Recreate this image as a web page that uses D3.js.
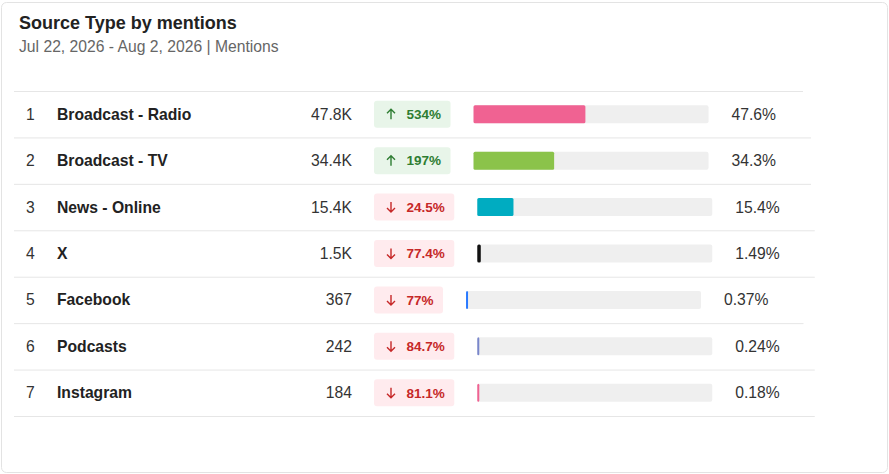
<!DOCTYPE html>
<html>
<head>
<title>Source Type by mentions</title>
<script src="https://cdn.jsdelivr.net/npm/d3@7/dist/d3.min.js"></script>
<style>
body { margin: 0; background: #fff; font-family: "Liberation Sans", Arial, sans-serif; }
#chart_svg { display: block; }
</style>
<script>
var sources = ['Broadcast - Radio', 'Broadcast - TV', 'News - Online', 'X', 'Facebook', 'Podcasts', 'Instagram'];
var mentions = [47800, 34400, 15400, 1500, 367, 242, 184];
var changes = [534, 197, -24.5, -77.4, -77, -84.7, -81.1];
var shares = [47.6, 34.3, 15.4, 1.49, 0.37, 0.24, 0.18];
var barColors = ['#f06292', '#8bc34a', '#00acc1', '#111111', '#2979ff', '#7986cb', '#f06292'];

var W = 889, H = 474;
var TRACK_W = 235;
var GAP = 23;

var fmtCount = function(v) {
  if (v < 1000) return String(v);
  return (+(v / 1000).toFixed(1)) + 'K';
}

// draw the whole card
var drawChart = function() {
  var svg = d3.select('#chart_svg').attr('width', W).attr('height', H);

  // card
  svg.append('rect')
    .attr('x', 1.5).attr('y', 2.5)
    .attr('width', W - 3).attr('height', H - 4)
    .attr('rx', 5)
    .attr('fill', '#fff')
    .attr('stroke', '#e3e3e3');

  svg.append('text')
    .attr('x', 19).attr('y', 28.5)
    .attr('font-size', '18px').attr('font-weight', 'bold')
    .attr('fill', '#222')
    .text('Source Type by mentions');

  svg.append('text')
    .attr('x', 19).attr('y', 52)
    .attr('font-size', '15.7px')
    .attr('fill', '#666')
    .text('Jul 22, 2026 - Aug 2, 2026 | Mentions');

  var y = d3.scaleBand().domain(sources).range([91, 416]);
  var x = d3.scaleLinear().domain([0, 100]).range([0, TRACK_W]);

  // header rule
  svg.append('line')
    .attr('x1', 14).attr('x2', 803)
    .attr('y1', 91.5).attr('y2', 91.5)
    .attr('stroke', '#e6e6e6');

  var rows = svg.selectAll('g.row')
    .data(sources)
    .enter().append('g')
    .attr('class', 'row')
    .attr('transform', function(d) { return 'translate(0,' + y(d) + ')'; });

  var mid = y.bandwidth() / 2;

  rows.each(function(d, i) {
    var g = d3.select(this);
    var up = changes[i] >= 0;

    g.append('text')
      .attr('x', 26).attr('y', mid).attr('dy', '0.35em')
      .attr('font-size', '15.7px').attr('fill', '#333')
      .text(i + 1);

    g.append('text')
      .attr('x', 57).attr('y', mid).attr('dy', '0.35em')
      .attr('font-size', '15.7px').attr('font-weight', 'bold').attr('fill', '#222')
      .text(d);

    g.append('text')
      .attr('x', 352).attr('y', mid).attr('dy', '0.35em')
      .attr('text-anchor', 'end')
      .attr('font-size', '15.7px').attr('fill', '#333')
      .text(fmtCount(mentions[i]));

    // change badge
    var bx = 374;
    var badge = g.append('g');
    var bRect = badge.append('rect')
      .attr('x', bx).attr('y', mid - 13.5)
      .attr('height', 27).attr('rx', 3)
      .attr('fill', up ? '#e8f5e9' : '#ffebee');
    var col = up ? '#2e7d32' : '#c62828';
    var bText = badge.append('text')
      .attr('x', bx + 32.5).attr('y', mid).attr('dy', '0.35em')
      .attr('font-size', '13.5px').attr('font-weight', 'bold').attr('fill', col)
      .text(Math.abs(changes[i]) + '%');
    var tw = bText.node().getComputedTextLength();
    var bw = 32.5 + tw + 9.5;
    bRect.attr('width', bw);

    // arrow
    var ax = bx + 17, h = 5;
    var ap = up
      ? 'M' + ax + ',' + (mid + h) + 'V' + (mid - h) + 'M' + (ax - 4) + ',' + (mid - h + 4) + 'L' + ax + ',' + (mid - h) + 'L' + (ax + 4) + ',' + (mid - h + 4)
      : 'M' + ax + ',' + (mid - h) + 'V' + (mid + h) + 'M' + (ax - 4) + ',' + (mid + h - 4) + 'L' + ax + ',' + (mid + h) + 'L' + (ax + 4) + ',' + (mid + h - 4);
    badge.append('path').attr('d', ap)
      .attr('fill', 'none').attr('stroke', col).attr('stroke-width', 1.4);

    // share bar
    var tx = bx + bw + GAP;
    g.append('rect')
      .attr('x', tx).attr('y', mid - 9)
      .attr('width', TRACK_W).attr('height', 18).attr('rx', 2)
      .attr('fill', '#efefef');
    g.append('rect')
      .attr('x', tx).attr('y', mid - 9)
      .attr('width', Math.max(2, x(shares[i]))).attr('height', 18).attr('rx', 1.5)
      .attr('fill', barColors[i]);

    var pt = g.append('text')
      .attr('x', tx + TRACK_W + GAP).attr('y', mid).attr('dy', '0.35em')
      .attr('font-size', '15.7px').attr('fill', '#333')
      .text(shares[i] + '%');
    var pend = tx + TRACK_W + GAP + pt.node().getComputedTextLength();

    g.append('line')
      .attr('x1', 14).attr('x2', pend + 35)
      .attr('y1', y.bandwidth() + 0.5).attr('y2', y.bandwidth() + 0.5)
      .attr('stroke', '#e6e6e6');
  });
}

window.onload = function() {
  drawChart();
}
</script>
</head>
<body>
<svg id="chart_svg"></svg>
</body>
</html>
